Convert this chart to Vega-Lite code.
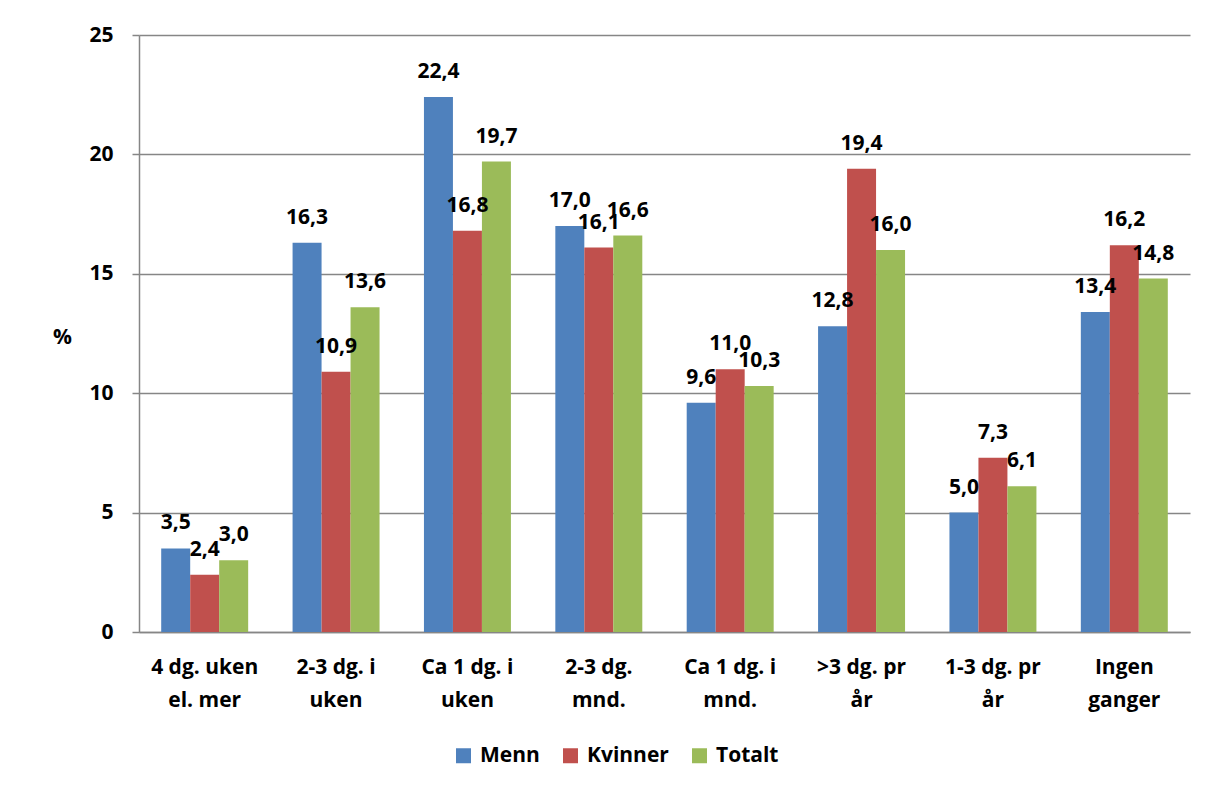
{
  "$schema": "https://vega.github.io/schema/vega-lite/v6.json",
  "width": 1051,
  "height": 597,
  "autosize": "none",
  "padding": {"left": 139, "top": 35, "right": 24, "bottom": 157},
  "background": "white",
  "data": {
    "values": [
      {"kategori": "4 dg. uken\nel. mer", "gruppe": "Menn", "prosent": 3.5},
      {"kategori": "4 dg. uken\nel. mer", "gruppe": "Kvinner", "prosent": 2.4},
      {"kategori": "4 dg. uken\nel. mer", "gruppe": "Totalt", "prosent": 3.0},
      {"kategori": "2-3 dg.  i\nuken", "gruppe": "Menn", "prosent": 16.3},
      {"kategori": "2-3 dg.  i\nuken", "gruppe": "Kvinner", "prosent": 10.9},
      {"kategori": "2-3 dg.  i\nuken", "gruppe": "Totalt", "prosent": 13.6},
      {"kategori": "Ca 1 dg.  i\nuken", "gruppe": "Menn", "prosent": 22.4},
      {"kategori": "Ca 1 dg.  i\nuken", "gruppe": "Kvinner", "prosent": 16.8},
      {"kategori": "Ca 1 dg.  i\nuken", "gruppe": "Totalt", "prosent": 19.7},
      {"kategori": "2-3 dg.\nmnd.", "gruppe": "Menn", "prosent": 17.0},
      {"kategori": "2-3 dg.\nmnd.", "gruppe": "Kvinner", "prosent": 16.1},
      {"kategori": "2-3 dg.\nmnd.", "gruppe": "Totalt", "prosent": 16.6},
      {"kategori": "Ca 1 dg. i\nmnd.", "gruppe": "Menn", "prosent": 9.6},
      {"kategori": "Ca 1 dg. i\nmnd.", "gruppe": "Kvinner", "prosent": 11.0},
      {"kategori": "Ca 1 dg. i\nmnd.", "gruppe": "Totalt", "prosent": 10.3},
      {"kategori": ">3 dg.  pr\når", "gruppe": "Menn", "prosent": 12.8},
      {"kategori": ">3 dg.  pr\når", "gruppe": "Kvinner", "prosent": 19.4},
      {"kategori": ">3 dg.  pr\når", "gruppe": "Totalt", "prosent": 16.0},
      {"kategori": "1-3 dg.  pr\når", "gruppe": "Menn", "prosent": 5.0},
      {"kategori": "1-3 dg.  pr\når", "gruppe": "Kvinner", "prosent": 7.3},
      {"kategori": "1-3 dg.  pr\når", "gruppe": "Totalt", "prosent": 6.1},
      {"kategori": "Ingen\nganger", "gruppe": "Menn", "prosent": 13.4},
      {"kategori": "Ingen\nganger", "gruppe": "Kvinner", "prosent": 16.2},
      {"kategori": "Ingen\nganger", "gruppe": "Totalt", "prosent": 14.8}
    ]
  },
  "encoding": {
    "x": {
      "field": "kategori",
      "type": "nominal",
      "sort": null,
      "title": null,
      "scale": {"paddingInner": 0.338, "paddingOuter": 0.169},
      "axis": {
        "labelAngle": 0,
        "labelExpr": "split(datum.label, '\\n')",
        "labelFont": "Open Sans",
        "labelFontSize": 21,
        "labelFontWeight": "bold",
        "labelColor": "#000000",
        "labelLineHeight": 33,
        "labelPadding": 24,
        "labelBaseline": "top",
        "ticks": false,
        "domainColor": "#868686",
        "domainWidth": 1.5
      }
    },
    "xOffset": {"field": "gruppe", "sort": ["Menn", "Kvinner", "Totalt"]},
    "y": {
      "field": "prosent",
      "type": "quantitative",
      "scale": {"domain": [0, 25]},
      "axis": {
        "values": [0, 5, 10, 15, 20, 25],
        "grid": true,
        "gridColor": "#868686",
        "gridWidth": 1.5,
        "domainColor": "#868686",
        "domainWidth": 1.5,
        "tickColor": "#868686",
        "tickWidth": 1.5,
        "tickSize": 7,
        "labelPadding": 19,
        "labelFont": "Open Sans",
        "labelFontSize": 21,
        "labelFontWeight": "bold",
        "labelColor": "#000000",
        "title": "%",
        "titleAngle": 0,
        "titleX": -77,
        "titleY": 302,
        "titleAlign": "center",
        "titleBaseline": "middle",
        "titleFont": "Open Sans",
        "titleFontSize": 21,
        "titleFontWeight": "bold",
        "titleColor": "#000000"
      }
    }
  },
  "layer": [
    {
      "mark": {"type": "bar"},
      "encoding": {
        "color": {
          "field": "gruppe",
          "type": "nominal",
          "sort": ["Menn", "Kvinner", "Totalt"],
          "scale": {"domain": ["Menn", "Kvinner", "Totalt"], "range": ["#4F81BD", "#C0504D", "#9BBB59"]},
          "legend": {
            "orient": "none",
            "legendX": 314,
            "legendY": 710,
            "direction": "horizontal",
            "title": null,
            "symbolType": "square",
            "symbolSize": 225,
            "symbolStrokeWidth": 0,
            "labelFont": "Open Sans",
            "labelFontSize": 21,
            "labelFontWeight": "bold",
            "labelColor": "#000000",
            "labelOffset": 6,
            "columnPadding": 20
          }
        }
      }
    },
    {
      "mark": {"type": "text", "dy": -19, "baseline": "alphabetic", "font": "Open Sans", "fontSize": 21, "fontWeight": "bold", "color": "#000000"},
      "encoding": {
        "text": {"field": "prosent", "type": "quantitative", "format": ".1f"}
      }
    }
  ],
  "config": {
    "view": {"stroke": null},
    "locale": {"number": {"decimal": ",", "thousands": " ", "grouping": [3], "currency": ["", " kr"]}}
  }
}
